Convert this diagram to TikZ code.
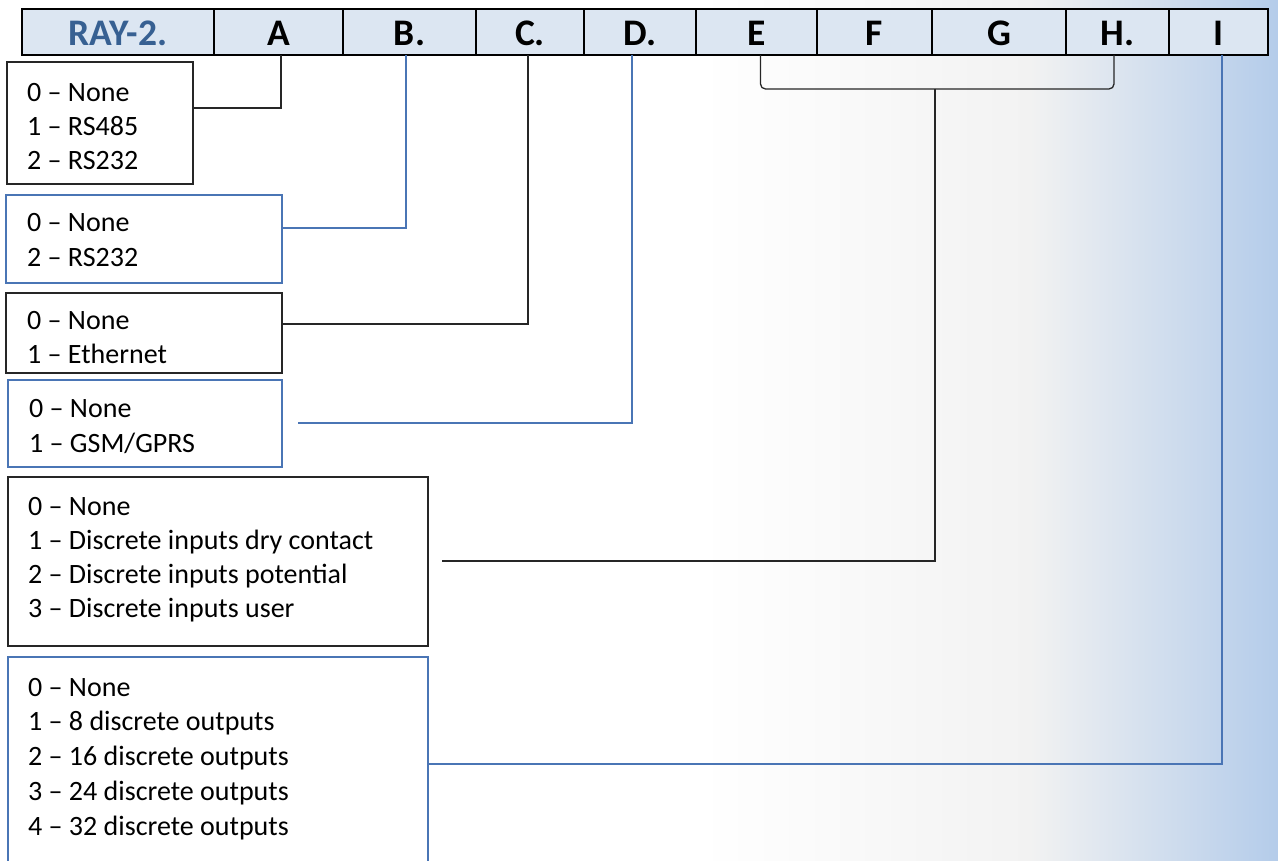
\documentclass[tikz,border=0pt]{standalone}
\usepackage{fontspec}
\setmainfont{Carlito}
\definecolor{hdrfill}{HTML}{DCE6F2}
\definecolor{raycol}{HTML}{376092}
\definecolor{bluline}{HTML}{4A75B5}
\definecolor{bgA}{HTML}{F2F2F2}
\definecolor{bgB}{HTML}{B4CCEA}
\begin{document}
\begin{tikzpicture}[x=1pt,y=-1pt,
  cell/.style={draw=black, line width=1.5pt, fill=hdrfill, anchor=north west,
    minimum height=46pt, inner sep=0pt, outer sep=0pt, text height=27pt, text depth=0pt,
    font=\fontsize{37.5}{42}\selectfont\bfseries},
  optbox/.style={line width=1.3pt, anchor=north west, inner sep=0pt, outer sep=0pt},
  blkbox/.style={optbox, draw=black!85},
  blubox/.style={optbox, draw=bluline},
  opttext/.style={anchor=base west, inner sep=0pt, font=\fontsize{28}{34}\selectfont},
  blk/.style={draw=black!85, line width=1.3pt},
  blu/.style={draw=bluline, line width=1.3pt}]
\useasboundingbox (0,0) rectangle (1278,861);
% background
\fill[white] (0,0) rectangle (1278,861);
\shade[left color=white, right color=bgA] (700,0) rectangle (1030,861);
\shade[left color=bgA, right color=bgB] (1030,0) rectangle (1278,861);
% header
\node[cell, minimum width=192pt] (hR) at (22,9) {\color{raycol}RAY-2.};
\node[cell, minimum width=129pt] (hA) at (214,9) {A};
\node[cell, minimum width=133pt] (hB) at (343,9) {B.};
\node[cell, minimum width=108pt] (hC) at (476,9) {C.};
\node[cell, minimum width=112pt] (hD) at (584,9) {D.};
\node[cell, minimum width=121pt] (hE) at (696,9) {E};
\node[cell, minimum width=115pt] (hF) at (817,9) {F};
\node[cell, minimum width=134pt] (hG) at (932,9) {G};
\node[cell, minimum width=103pt] (hH) at (1066,9) {H.};
\node[cell, minimum width=99pt] (hI) at (1169,9) {I};
\draw[line width=2.5pt] (hR.north west) rectangle (hI.south east);
% option boxes
\node[blkbox, minimum width=186pt, minimum height=122pt] (box1) at (7,62) {};
\node[blubox, minimum width=276pt, minimum height=88pt] (box2) at (6,195) {};
\node[blkbox, minimum width=276pt, minimum height=80pt] (box3) at (6,293) {};
\node[blubox, minimum width=274pt, minimum height=87pt] (box4) at (8,380) {};
\node[blkbox, minimum width=420pt, minimum height=169pt] (box5) at (8,477) {};
\node[blubox, minimum width=420pt, minimum height=214pt] (box6) at (8,657) {};
% texts
\node[opttext] (t1) at (27,101.5) {\vtop{\baselineskip=34pt\hbox{0 – None}\hbox{1 – RS485}\hbox{2 – RS232}}};
\node[opttext] (t2) at (27,231.5) {\vtop{\baselineskip=35pt\hbox{0 – None}\hbox{2 – RS232}}};
\node[opttext] (t3) at (27,330) {\vtop{\baselineskip=33.5pt\hbox{0 – None}\hbox{1 – Ethernet}}};
\node[opttext] (t4) at (29,417) {\vtop{\baselineskip=35pt\hbox{0 – None}\hbox{1 – GSM/GPRS}}};
\node[opttext] (t5) at (28,515) {\vtop{\baselineskip=34pt\hbox{0 – None}\hbox{1 – Discrete inputs dry contact}\hbox{2 – Discrete inputs potential}\hbox{3 – Discrete inputs user}}};
\node[opttext] (t6) at (28,696) {\vtop{\baselineskip=34.75pt\hbox{0 – None}\hbox{1 – 8 discrete outputs}\hbox{2 – 16 discrete outputs}\hbox{3 – 24 discrete outputs}\hbox{4 – 32 discrete outputs}}};
% connectors
\draw[blk] ([xshift=2.5pt]hA.south) |- ([yshift=15pt]box1.east);
\draw[blu] ([xshift=-3.5pt]hB.south) |- ([yshift=11pt]box2.east);
\draw[blk] ([xshift=-2pt]hC.south) |- ([yshift=9pt]box3.east);
\draw[blu] ([xshift=-8pt]hD.south) |- ([xshift=16pt,yshift=0.5pt]box4.east);
\coordinate (ehm) at (935,89);
\coordinate (eL) at ([xshift=4pt]hE.south);
\coordinate (hRt) at ([xshift=-3.5pt]hH.south);
\draw[blk, rounded corners=5pt] (eL) -- (eL |- ehm) -- (hRt |- ehm) -- (hRt);
\draw[blk] (ehm) |- ([xshift=14pt,yshift=0.5pt]box5.east);
\draw[blu] ([xshift=3.5pt]hI.south) |- (box6.east);
\end{tikzpicture}
\end{document}
